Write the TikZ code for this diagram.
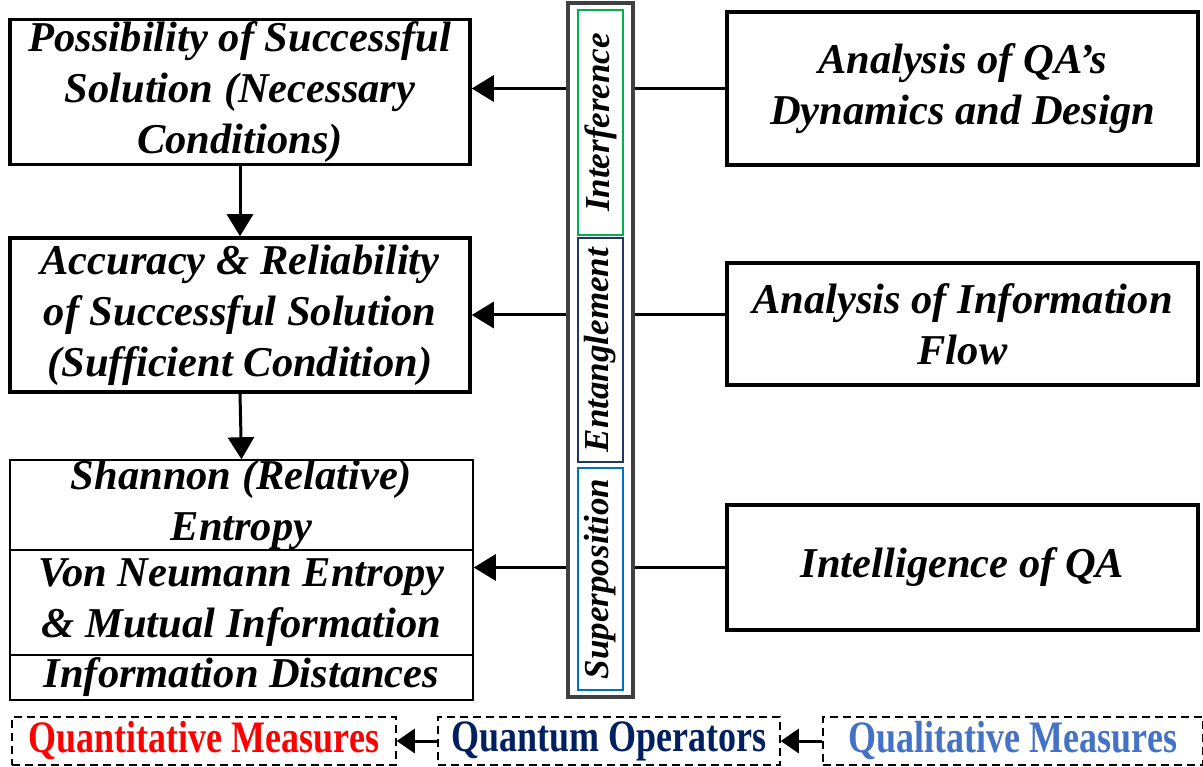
\documentclass[tikz,border=0pt]{standalone}
\usepackage{fontspec}
\setmainfont{Liberation Serif}
\newfontfamily\legendfont[FakeStretch=0.8]{Liberation Serif}
\usetikzlibrary{arrows.meta}
\definecolor{opgreen}{HTML}{00B050}
\definecolor{opnavy}{HTML}{1F3864}
\definecolor{opblue}{HTML}{0070C0}
\definecolor{qnred}{HTML}{FF0000}
\definecolor{qnnavy}{HTML}{002060}
\definecolor{qlblue}{HTML}{4472C4}
\definecolor{colgray}{HTML}{404040}
\tikzset{
  boxtext/.style={align=center, inner sep=0pt, font=\fontsize{42.5}{51}\selectfont\bfseries\itshape},
  bigbox/.style={boxtext, draw, line width=3.5pt, minimum width=460pt},
  rightbox/.style={boxtext, draw, line width=3.5pt, minimum width=471pt},
  stackbox/.style={boxtext, draw, line width=1.5pt, minimum width=463pt},
  opbox/.style={draw, line width=1.5pt, rotate=90, minimum width=#1, minimum height=45pt, inner sep=0pt,
    font=\fontsize{35}{38}\selectfont\bfseries\itshape},
  legbox/.style={draw, dash pattern=on 8pt off 5pt, line width=1.5pt, minimum height=48pt, inner sep=0pt,
    font=\fontsize{45}{48}\legendfont\bfseries},
  conn/.style={line width=3pt},
  arr/.style={line width=3pt, -{Triangle[length=22pt, width=26pt]}},
  legarr/.style={line width=3pt, -{Triangle[length=18pt, width=24pt]}}
}
\begin{document}
\begin{tikzpicture}[x=1pt, y=-1pt]
\useasboundingbox (0,0) rectangle (1203,767);
%left column
\node[bigbox, minimum height=145pt] (P) at (240,92) {Possibility of Successful\\Solution (Necessary\\Conditions)};
\node[bigbox, minimum height=154pt] (A) at (240,315) {Accuracy \& Reliability\\of Successful Solution\\(Sufficient Condition)};
\node[stackbox, minimum height=90pt] (S1) at (241.5,505) {Shannon (Relative)\\Entropy};
\node[stackbox, minimum height=105pt] (S2) at (241.5,602.5) {Von Neumann Entropy\\\& Mutual Information};
\node[stackbox, minimum height=45pt] (S3) at (241.5,677.5) {Information Distances};
%operators
\node[draw=colgray, line width=4pt, minimum width=65pt, minimum height=694pt] (col) at (600.5,350) {};
\node[opbox=225pt, draw=opgreen] (Int) at (600.5,122.5) {Interference};
\node[opbox=224pt, draw=opnavy] (Ent) at (600.5,350) {Entanglement};
\node[opbox=222pt, draw=opblue] (Sup) at (600.5,579) {Superposition};
%right column
\node[rightbox, minimum height=153pt] (R1) at (962.5,88.5) {Analysis of QA’s\\Dynamics and Design};
\node[rightbox, minimum height=122pt] (R2) at (962.5,324) {Analysis of Information\\Flow};
\node[rightbox, minimum height=125pt] (R3) at (962.5,567.5) {Intelligence of QA};
%vertical
\draw[arr] (P.south) -- (A.north);
\draw[arr] (A.south) -- (S1.north);
%horizontal
\draw[conn] (R1.west) -- (R1.west -| col.east);
\draw[arr] (R1.west -| col.west) -- (R1.west -| P.east);
\draw[conn] (R2.west |- A.east) -- (col.east |- A.east);
\draw[arr] (col.west |- A.east) -- (A.east);
\draw[conn] (R3.west) -- (R3.west -| col.east);
\draw[arr] (R3.west -| col.west) -- (R3.west -| S2.east);
%legend
\node[legbox, minimum width=384pt, text=qnred] (Q1) at (204,741) {Quantitative Measures};
\node[legbox, minimum width=342pt, text=qnnavy] (Q2) at (609,741) {Quantum Operators};
\node[legbox, minimum width=380pt, text=qlblue] (Q3) at (1013,741) {Qualitative Measures};
\draw[legarr] (Q2) -- (Q1);
\draw[legarr] (Q3) -- (Q2);
\end{tikzpicture}
\end{document}
